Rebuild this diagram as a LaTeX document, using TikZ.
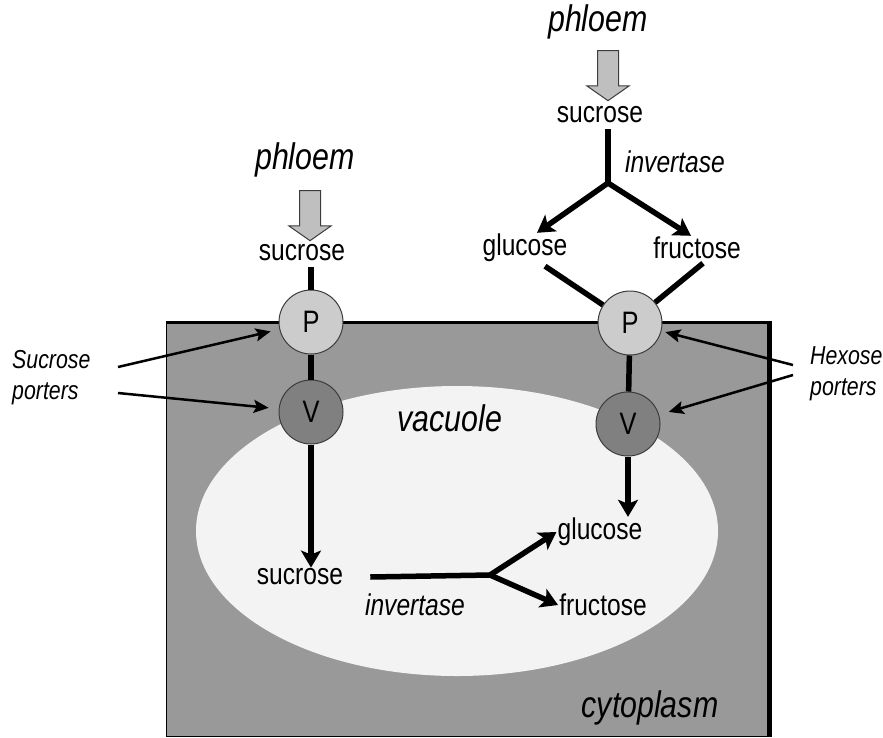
\documentclass[tikz,border=0pt]{standalone}
\usepackage{fontspec}
\setmainfont{Liberation Sans}[FakeStretch=0.82]
\usetikzlibrary{calc,arrows.meta,shapes.arrows}
\definecolor{cytogray}{RGB}{153,153,153}
\definecolor{vacwhite}{RGB}{243,243,243}
\definecolor{pgray}{RGB}{204,204,204}
\definecolor{vgray}{RGB}{128,128,128}
\definecolor{edgegray}{RGB}{60,60,60}
\tikzset{
  lbl/.style={font=\fontsize{30}{36}\selectfont,inner sep=1pt},
  ilbl/.style={font=\fontsize{30}{36}\selectfont\itshape,inner sep=1pt},
  big/.style={font=\fontsize{37}{44}\selectfont\itshape,inner sep=1pt},
  note/.style={align=left,font=\fontsize{26}{31}\selectfont\itshape,inner sep=0pt},
  porter/.style={circle,draw=edgegray,line width=1pt,minimum size=64pt,inner sep=0pt,
                 font=\fontsize{31}{36}\selectfont},
  flow/.style={line width=5.5pt},
  arr/.style={flow,-{Stealth[length=17pt,width=20pt,inset=4pt]}},
  pointer/.style={line width=2.5pt,-{Stealth[length=15pt,width=13pt,inset=3pt]}},
  inflow/.style={single arrow,draw=edgegray,fill=gray!50,line width=1pt,shape border rotate=270,
                 minimum height=50pt,minimum width=41pt,single arrow head extend=10.5pt,
                 single arrow tip angle=110,inner sep=10pt}
}
\begin{document}
\begin{tikzpicture}[x=1pt,y=-1pt]
  \useasboundingbox (0,0) rectangle (883,737);
  % cell and vacuole
  \fill[cytogray] (166,322) rectangle (769,736);
  \draw[line width=1pt] (769,736) -- (166,736) -- (166,322);
  \draw[line width=3pt] (166,322) -- (769,322);
  \draw[line width=5pt] (769,320.5) -- (769,737);
  \fill[vacwhite] (457,531) ellipse [x radius=261, y radius=145];
  \node[big] (vac) at (450,418) {vacuole};
  \node[big] (cyt) at (650,708) {cytoplasm};

  % left: sucrose porters
  \node[big] (ph1) at (305,160) {phloem};
  \node[inflow] (in1) at (310,212) {};
  \node[lbl] (s1) at (302,253) {sucrose};
  \node[porter,fill=pgray] (P1) at (311,322) {P};
  \node[porter,fill=vgray] (V1) at (311,412) {V};
  \node[lbl] (vs) at (300,577) {sucrose};
  \node[ilbl] (vinv) at (415,605) {invertase};
  \coordinate (vbr) at (490,575);
  \node[lbl] (vg) at (600,532) {glucose};
  \node[lbl] (vf) at (603,605) {fructose};

  % right: hexose porters
  \node[big] (ph2) at (598,22) {phloem};
  \node[inflow] (in2) at (608,72) {};
  \node[lbl] (s2) at (600,115) {sucrose};
  \node[ilbl] (inv2) at (675,162) {invertase};
  \coordinate (br2) at (608,183);
  \node[lbl] (g2) at (525,248) {glucose};
  \node[lbl] (f2) at (697,248) {fructose};
  \node[porter,fill=pgray] (P2) at (630,323) {P};
  \node[porter,fill=vgray] (V2) at (628,424) {V};

  % transport
  \draw[flow,shorten <=5pt] (s1.south -| P1) -- (P1);
  \draw[flow] (P1) -- (V1);
  \draw[arr] (V1) -- (vs.north -| V1);
  \draw[flow] ($(vs.east)+(26,0)$) -- (vbr);
  \draw[arr] (vbr) -- (vg.west);
  \draw[arr] (vbr) -- (vf.west);
  \draw[flow,shorten <=5pt] (s2.south -| br2) -- (br2);
  \draw[arr] (br2) -- ($(g2.north)+(12,0)$);
  \draw[arr] (br2) -- ($(f2.north)+(-6,0)$);
  \draw[flow] ($(g2.south)+(20,3)$) -- (P2);
  \draw[flow] ($(f2.south)+(6,3)$) -- (P2);
  \draw[flow] (P2) -- (V2);
  \draw[arr] (V2) -- (vg.north -| V2);

  % porter labels
  \node[note,anchor=west] (sp) at (12,378) {Sucrose\\porters};
  \node[note,anchor=west] (hp) at (810,374) {Hexose\\porters};
  \coordinate (sp1) at (118,367);
  \coordinate (sp2) at (118,393);
  \coordinate (hp1) at (793,365);
  \coordinate (hp2) at (793,375);
  \draw[pointer,shorten >=9pt] (sp1) -- (P1);
  \draw[pointer,shorten >=10pt] (sp2) -- (V1);
  \draw[pointer,shorten >=4pt] (hp1) -- (P2);
  \draw[pointer,shorten >=10pt] (hp2) -- (V2);
\end{tikzpicture}
\end{document}
